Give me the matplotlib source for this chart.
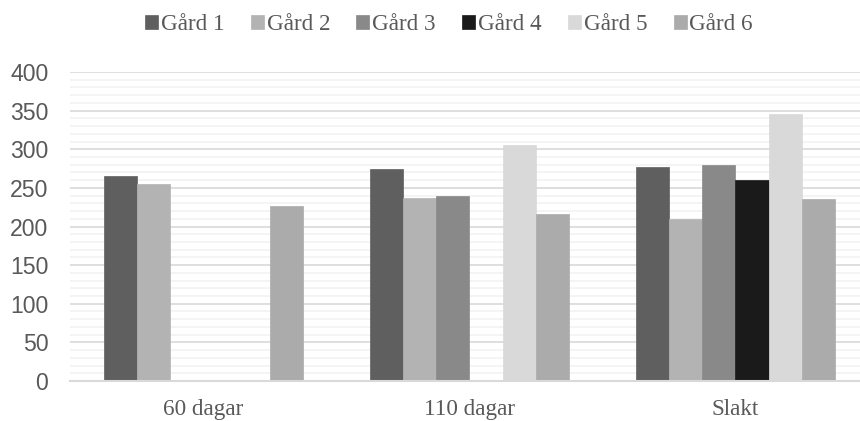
import matplotlib
matplotlib.use("Agg")
import matplotlib.pyplot as plt
import numpy as np
from matplotlib.ticker import MultipleLocator

categories = ["60 dagar", "110 dagar", "Slakt"]
series_names = ["Gård 1", "Gård 2", "Gård 3", "Gård 4", "Gård 5", "Gård 6"]
gard1 = [265, 275, 277]
gard2 = [255, 237, 210]
gard3 = [0, 240, 279]
gard4 = [0, 0, 260]
gard5 = [0, 305, 346]
gard6 = [227, 216, 236]
values = [gard1, gard2, gard3, gard4, gard5, gard6]
colors = ["#5f5f5f", "#b3b3b3", "#898989", "#1a1a1a", "#d9d9d9", "#ababab"]

W, H = 860, 421
fig = plt.figure(figsize=(W / 100, H / 100), dpi=100)
left_px, right_px, bottom_px, top_px = 70.3, 868.3, 381, 72
ax = fig.add_axes([left_px / W, (H - bottom_px) / H,
                   (right_px - left_px) / W, (bottom_px - top_px) / H])

n = len(series_names)
group_w = 0.75
bw = group_w / n
x = np.arange(len(categories))
for i, (name, vals, c) in enumerate(zip(series_names, values, colors)):
    pos = x - group_w / 2 + bw * (i + 0.5)
    ax.bar(pos, vals, width=bw, color=c, label=name, zorder=3,
           edgecolor=c, linewidth=0.5)

ax.set_xlim(-0.5, 2.5)
ax.set_ylim(0, 400)
ax.yaxis.set_major_locator(MultipleLocator(50))
ax.yaxis.set_minor_locator(MultipleLocator(10))
ax.grid(which="minor", axis="y", color="#f2f2f2", linewidth=1.2, zorder=0)
ax.grid(which="major", axis="y", color="#d9d9d9", linewidth=1.2, zorder=1)
for s in ["top", "right", "left"]:
    ax.spines[s].set_visible(False)
ax.spines["bottom"].set_color("#d9d9d9")
ax.spines["bottom"].set_linewidth(1.5)
ax.spines["bottom"].set_zorder(4)
ax.tick_params(axis="both", which="both", length=0)
ax.tick_params(axis="y", pad=15.8, labelsize=16.6, labelcolor="#595959")
ax.set_yticks(np.arange(0, 401, 50))
ax.set_yticklabels([str(v) for v in range(0, 401, 50)], fontfamily="Liberation Sans")
ax.set_xticks(x)
ax.set_xticklabels(categories, fontfamily="Liberation Serif", fontsize=16.7,
                   color="#595959")
ax.tick_params(axis="x", pad=13)

leg = fig.legend(loc="center", bbox_to_anchor=(449 / W, (H - 25) / H), ncol=6,
                 frameon=False, prop={"family": "Liberation Serif", "size": 16.7},
                 handlelength=0.56, handleheight=0.56, handletextpad=0.12,
                 columnspacing=1.14, labelcolor="#595959")

fig.savefig("out.png", dpi=100)
